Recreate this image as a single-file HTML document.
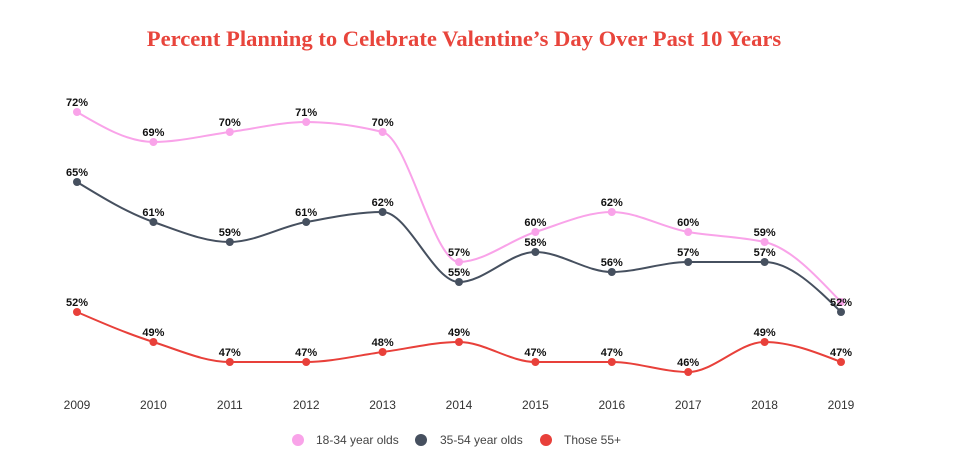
<!DOCTYPE html>
<html><head><meta charset="utf-8">
<style>
body{margin:0;background:#fff;width:965px;height:459px;overflow:hidden;font-family:"Liberation Sans",sans-serif}
</style></head>
<body>
<svg id="chart" width="965" height="459" viewBox="0 0 965 459">
<text x="464" y="46" text-anchor="middle" font-family="Liberation Serif, serif" font-weight="bold" font-size="22.6" fill="#e8453c">Percent Planning to Celebrate Valentine’s Day Over Past 10 Years</text>
<g id="lines"></g><g id="axis"></g>
<g font-size="12" fill="#444">
<circle cx="298" cy="440" r="6" fill="#f9a3e9"/><text x="316" y="444">18-34 year olds</text>
<circle cx="421" cy="440" r="6" fill="#46505f"/><text x="440" y="444">35-54 year olds</text>
<circle cx="546" cy="440" r="6" fill="#e8403a"/><text x="564" y="444">Those 55+</text>
</g>
</svg>
<script>
const years=[2009,2010,2011,2012,2013,2014,2015,2016,2017,2018,2019];
const young=[72,69,70,71,70,57,60,62,60,59,53];
const middle=[65,61,59,61,62,55,58,56,57,57,52];
const older=[52,49,47,47,48,49,47,47,46,49,47];
const youngLabels=[1,1,1,1,1,1,1,1,1,1,0];
const NS="http://www.w3.org/2000/svg";
function x(i){return 77+i*76.4;}
function y(v){return 112+(72-v)*10;}
function mono(px,py){
  const n=px.length,d=[],m=[];
  for(let i=0;i<n-1;i++)d.push((py[i+1]-py[i])/(px[i+1]-px[i]));
  for(let i=0;i<n;i++){
    if(i==0)m.push(d[0]);else if(i==n-1)m.push(d[n-2]);
    else if(d[i-1]*d[i]<=0)m.push(0);
    else{const h0=px[i]-px[i-1],h1=px[i+1]-px[i];
      m.push(3*(h0+h1)/((2*h1+h0)/d[i-1]+(2*h0+h1)/d[i]));}
  }
  if(n>2){m[0]=(3*d[0]-m[1])/2;m[n-1]=(3*d[n-2]-m[n-2])/2;}
  let s="M"+px[0]+","+py[0];
  for(let i=0;i<n-1;i++){const h=(px[i+1]-px[i])/3;
    s+=" C"+(px[i]+h)+","+(py[i]+m[i]*h)+" "+(px[i+1]-h)+","+(py[i+1]-m[i+1]*h)+" "+px[i+1]+","+py[i+1];}
  return s;
}
const g=document.getElementById('lines');
function series(vals,color,name,labels){
  const px=vals.map((v,i)=>x(i)),py=vals.map(y);
  const p=document.createElementNS(NS,'path');
  
  
  p.setAttribute('d',mono(px,py));p.setAttribute('fill','none');p.setAttribute('stroke',color);p.setAttribute('stroke-width','2');
  g.appendChild(p);
  vals.forEach((v,i)=>{
    const c=document.createElementNS(NS,'circle');
    
    
    c.setAttribute('cx',px[i]);c.setAttribute('cy',py[i]);c.setAttribute('r','4');c.setAttribute('fill',color);
    g.appendChild(c);
    if(labels&&!labels[i])return;
    const t=document.createElementNS(NS,'text');
    
    
    t.setAttribute('x',px[i]);t.setAttribute('y',py[i]-6);t.setAttribute('text-anchor','middle');
    t.setAttribute('font-size','11');t.setAttribute('font-weight','bold');t.setAttribute('fill','#111');
    t.textContent=v+'%';g.appendChild(t);
  });
}
series(young,'#f9a3e9','series-18-34',youngLabels);
series(middle,'#46505f','series-35-54');
series(older,'#e8403a','series-55plus');
const a=document.getElementById('axis');
years.forEach((yr,i)=>{
  const t=document.createElementNS(NS,'text');
  
  
  t.setAttribute('x',x(i));t.setAttribute('y',409);t.setAttribute('text-anchor','middle');
  t.setAttribute('font-size','12');t.setAttribute('fill','#333');
  t.textContent=yr;a.appendChild(t);
});
</script>
</body></html>
